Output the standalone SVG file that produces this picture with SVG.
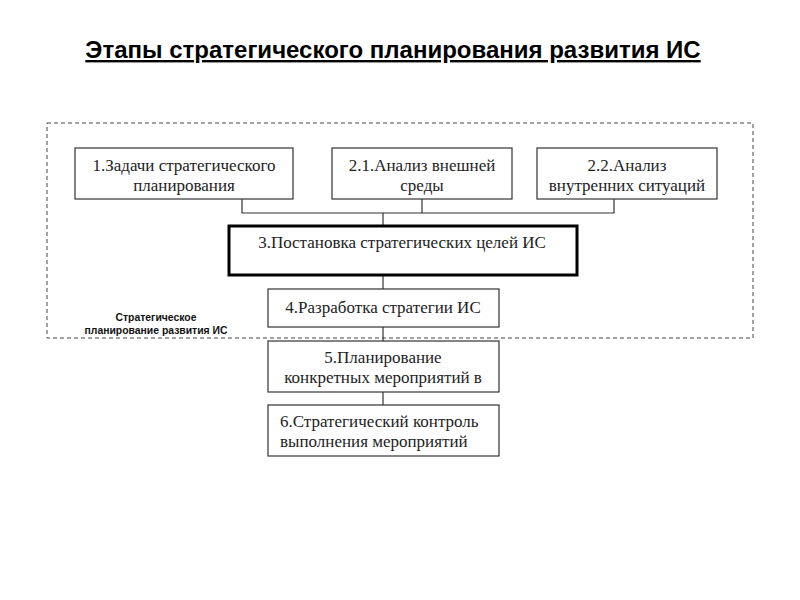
<svg xmlns="http://www.w3.org/2000/svg" width="800" height="600" viewBox="0 0 800 600">
<style>
.box{fill:#fff;stroke:#333;stroke-width:1.2}
.thick{fill:#fff;stroke:#000;stroke-width:3}
.t{font-family:"Liberation Serif","Times New Roman",serif;font-size:17px;fill:#222}
.c{text-anchor:middle}
.conn{fill:none;stroke:#333;stroke-width:1.2}
.lbl{font-family:"Liberation Sans",Arial,sans-serif;font-size:10.4px;font-weight:bold;fill:#111;text-anchor:middle}
</style>
<rect width="800" height="600" fill="#fff"/>
<text x="393" y="58" font-family="Liberation Sans,Arial,sans-serif" font-size="24" font-weight="bold" text-anchor="middle" text-decoration="underline" fill="#000">Этапы стратегического планирования развития ИС</text>
<g id="group-frame">
<rect x="47" y="123" width="706" height="215" fill="none" stroke="#444" stroke-width="1" stroke-dasharray="4,3"/>
<text class="lbl" x="156" y="321">Стратегическое</text>
<text class="lbl" x="156" y="334">планирование развития ИС</text>
</g>
<g id="connectors">
<polyline class="conn" points="242,199 242,213 614,213 614,199"/>
<line class="conn" x1="422" y1="199" x2="422" y2="213"/>
<line class="conn" x1="383" y1="213" x2="383" y2="226"/>
<line class="conn" x1="383" y1="275" x2="383" y2="289"/>
<line class="conn" x1="383" y1="327" x2="383" y2="341"/>
<line class="conn" x1="383" y1="392" x2="383" y2="405"/>
</g>
<g id="n1">
<rect class="box" x="75" y="148" width="218" height="51"/>
<text class="t c" x="184" y="171">1.Задачи стратегического</text>
<text class="t c" x="184" y="191">планирования</text>
</g>
<g id="n21">
<rect class="box" x="332" y="148" width="180" height="51"/>
<text class="t c" x="422" y="171">2.1.Анализ внешней</text>
<text class="t c" x="422" y="191">среды</text>
</g>
<g id="n22">
<rect class="box" x="537" y="148" width="180" height="51"/>
<text class="t c" x="627" y="171">2.2.Анализ</text>
<text class="t c" x="627" y="191">внутренних ситуаций</text>
</g>
<g id="n3">
<rect class="thick" x="229" y="226" width="348" height="49"/>
<text class="t c" x="402" y="248">3.Постановка стратегических целей ИС</text>
</g>
<g id="n4">
<rect class="box" x="268" y="289" width="231" height="38"/>
<text class="t c" x="383" y="313">4.Разработка стратегии ИС</text>
</g>
<g id="n5">
<rect class="box" x="268" y="341" width="231" height="51"/>
<text class="t c" x="383" y="363">5.Планирование</text>
<text class="t c" x="383" y="383">конкретных мероприятий в</text>
</g>
<g id="n6">
<rect class="box" x="268" y="405" width="231" height="51"/>
<text class="t" x="280" y="427">6.Стратегический контроль</text>
<text class="t" x="280" y="447">выполнения мероприятий</text>
</g>
</svg>
